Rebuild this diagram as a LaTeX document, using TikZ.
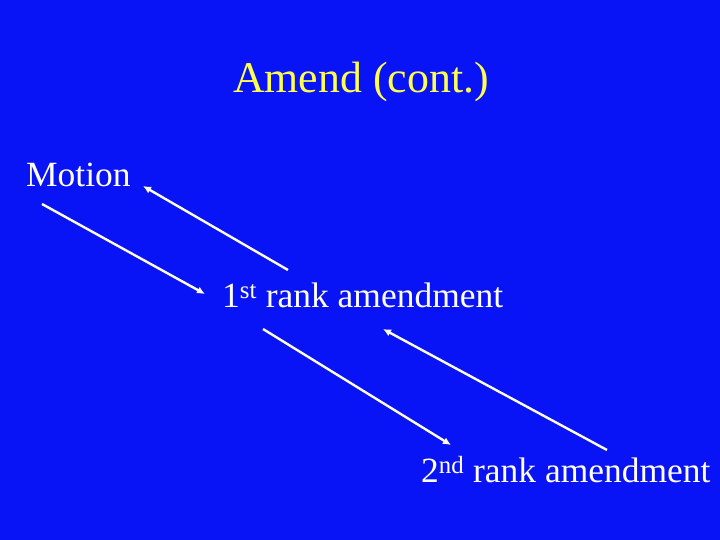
\documentclass[tikz,border=0pt]{standalone}
\usepackage{fontspec}
\setmainfont{Liberation Serif}
\usepackage{tikz}
\usetikzlibrary{arrows.meta}
\definecolor{slideblue}{RGB}{8,20,246}
\definecolor{titleyellow}{RGB}{255,255,80}
\tikzset{
  title/.style={anchor=base west, inner sep=0pt, text=titleyellow, font=\fontsize{44}{52}\selectfont},
  item/.style={anchor=base west, inner sep=0pt, text=white, font=\fontsize{35.6}{42}\selectfont},
  arrow/.style={-{Latex[length=8bp,width=7.5bp]}, line width=2.4bp, draw=white}
}
\begin{document}
\begin{tikzpicture}[x=1bp, y=-1bp]
\fill[slideblue] (0,0) rectangle (720,540);
\useasboundingbox (0,0) rectangle (720,540);
\node[title] (head) at (233,93) {Amend (cont.)};
\node[item] (motion) at (26,187) {Motion};
\node[item] (first) at (222,307) {1\textsuperscript{st} rank amendment};
\node[item] (second) at (421,482) {2\textsuperscript{nd} rank amendment};
\coordinate (m1) at (42,204);
\coordinate (f1) at (205,294);
\coordinate (f2) at (288,270);
\coordinate (m2) at (143,186);
\coordinate (f3) at (263,329);
\coordinate (s1) at (451,445);
\coordinate (s2) at (607,450);
\coordinate (f4) at (383,329);
\draw[arrow] (m1) -- (f1);
\draw[arrow] (f2) -- (m2);
\draw[arrow] (f3) -- (s1);
\draw[arrow] (s2) -- (f4);
\end{tikzpicture}
\end{document}
